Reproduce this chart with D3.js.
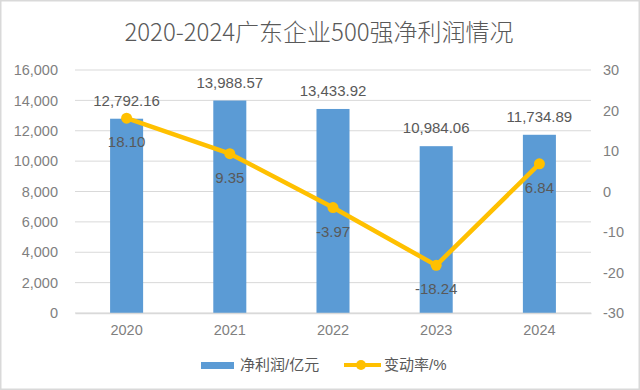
<!DOCTYPE html>
<html><head><meta charset="utf-8">
<script src="https://cdn.jsdelivr.net/npm/d3@7"></script>
<style>html,body{margin:0;padding:0;background:#fff;}</style>
</head><body>
<svg id="c" width="640" height="390"></svg>
<script>
const title = "2020-2024广东企业500强净利润情况";
const years = ["2020","2021","2022","2023","2024"];
const profit = [12792.16, 13988.57, 13433.92, 10984.06, 11734.89];
const change = [18.10, 9.35, -3.97, -18.24, 6.84];
const leftTicks = [0,2000,4000,6000,8000,10000,12000,14000,16000];
const rightTicks = [-30,-20,-10,0,10,20,30];
const seriesNames = ["净利润/亿元","变动率/%"];

const svg = d3.select("#c");
const W = 640, H = 390;
const m = {l:75, r:591, t:70, b:313};
const font = "'Liberation Sans', Arial, 'Noto Sans CJK SC', sans-serif";
const hy = s => s.replace(/\u2212/g, "-");

svg.append("rect").attr("x",0.75).attr("y",0.75).attr("width",W-1.5).attr("height",H-1.5)
  .attr("fill","#fff").attr("stroke","#d9d9d9").attr("stroke-width",1.5);

svg.append("text").attr("x",319).attr("y",41).attr("text-anchor","middle")
  .attr("font-family","'Noto Sans CJK SC', sans-serif").attr("font-size",24).attr("font-weight",300)
  .attr("fill","#595959").text(title);

const x = d3.scaleBand().domain(years).range([m.l, m.r]).paddingInner(0.68).paddingOuter(0.34);
const xc = d => x(d) + x.bandwidth()/2;
const yL = d3.scaleLinear().domain([0,16000]).range([m.b, m.t]);
const yR = d3.scaleLinear().domain([-30,30]).range([m.b, m.t]);

svg.append("g").selectAll("line").data(leftTicks).join("line")
  .attr("x1",m.l).attr("x2",m.r).attr("y1",d=>yL(d)).attr("y2",d=>yL(d))
  .attr("stroke","#d9d9d9").attr("stroke-width",1);

const gl = svg.append("g").attr("transform",`translate(${m.l},0)`)
  .call(d3.axisLeft(yL).tickValues(leftTicks).tickSize(0).tickPadding(17).tickFormat(d3.format(",")));
gl.select(".domain").remove();
gl.selectAll("text").attr("font-family",font).attr("font-size",14.5).attr("fill","#7f7f7f");

const gr = svg.append("g").attr("transform",`translate(${m.r},0)`)
  .call(d3.axisRight(yR).tickValues(rightTicks).tickSize(0).tickPadding(12).tickFormat(d => hy(d3.format("d")(d))));
gr.select(".domain").remove();
gr.selectAll("text").attr("font-family",font).attr("font-size",14.5).attr("fill","#7f7f7f");

svg.append("g").selectAll("rect").data(years).join("rect")
  .attr("x",d=>x(d)).attr("width",x.bandwidth())
  .attr("y",(d,i)=>yL(profit[i])).attr("height",(d,i)=>yL(0)-yL(profit[i]))
  .attr("fill","#5b9bd5");

const gb = svg.append("g").attr("transform",`translate(0,${m.b})`)
  .call(d3.axisBottom(x).tickSize(0).tickPadding(12));
gb.select(".domain").attr("stroke","#d9d9d9").attr("stroke-width",1.5);
gb.selectAll("text").attr("font-family",font).attr("font-size",14.5).attr("fill","#7f7f7f");

svg.append("g").selectAll("text").data(years).join("text")
  .attr("x",d=>xc(d)).attr("y",(d,i)=>yL(profit[i])-13)
  .attr("text-anchor","middle").attr("font-family",font).attr("font-size",15).attr("fill","#595959")
  .text((d,i)=>d3.format(",.2f")(profit[i]));

const line = d3.line().x((d,i)=>xc(years[i])).y(d=>yR(d));
svg.append("path").datum(change).attr("d",line).attr("fill","none")
  .attr("stroke","#ffc000").attr("stroke-width",4.5).attr("stroke-linejoin","round");
svg.append("g").selectAll("circle").data(change).join("circle")
  .attr("cx",(d,i)=>xc(years[i])).attr("cy",d=>yR(d)).attr("r",5.5).attr("fill","#ffc000");

svg.append("g").selectAll("text").data(change).join("text")
  .attr("x",(d,i)=>xc(years[i])).attr("y",d=>yR(d)+29)
  .attr("text-anchor","middle").attr("font-family",font).attr("font-size",15).attr("fill","#595959")
  .text(d=>hy(d3.format(".2f")(d)));

const lg = svg.append("g");
lg.append("rect").attr("x",201).attr("y",362).attr("width",33).attr("height",7).attr("fill","#5b9bd5");
lg.append("text").attr("x",240).attr("y",370).attr("font-family",font).attr("font-size",15).attr("fill","#595959").text(seriesNames[0]);
lg.append("line").attr("x1",344).attr("x2",381).attr("y1",365).attr("y2",365).attr("stroke","#ffc000").attr("stroke-width",4);
lg.append("circle").attr("cx",361).attr("cy",365).attr("r",5).attr("fill","#ffc000");
lg.append("text").attr("x",384).attr("y",370).attr("font-family",font).attr("font-size",15).attr("fill","#595959").text(seriesNames[1]);
</script>
</body></html>
